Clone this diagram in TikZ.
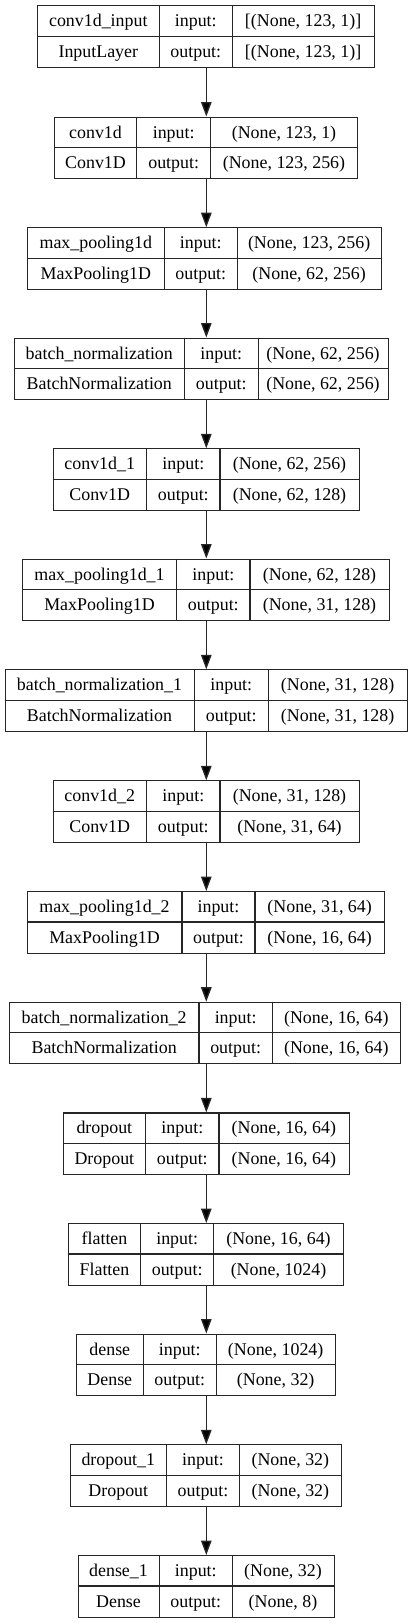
\documentclass[tikz,border=0pt]{standalone}
\usepackage{fontspec}
\setmainfont{Liberation Serif}
\usetikzlibrary{arrows.meta}
\tikzset{
  layerbox/.style={draw=black!85, line width=1.1pt, rectangle, inner sep=0pt, anchor=north west},
  divider/.style={draw=black!85, line width=1.1pt},
  celltext/.style={anchor=base, inner sep=0pt, font=\fontsize{17.9pt}{20pt}\selectfont, text=black},
  arr/.style={draw=black!85, line width=1.4pt, -{Triangle[length=14.5pt, width=10.5pt, fill=black]}}
}
% #1 id, #2 top, #3 x0, #4 d1, #5 d2, #6 x1, #7 name, #8 type, #9 in/out (as {in}{out})
\newcommand{\kerasLayer}[9]{%
  \node[layerbox, minimum width={(#6-#3)*1pt}, minimum height=61.5pt] (L#1) at (#3,#2) {};
  \draw[divider] (#3,{#2+31}) -- (#6,{#2+31});
  \draw[divider] (#4,#2) -- (#4,{#2+61.5});
  \draw[divider] (#5,#2) -- (#5,{#2+61.5});
  \node[celltext] (nm#1) at ({(#3+#4)/2},{#2+21.5}) {#7};
  \node[celltext] (ty#1) at ({(#3+#4)/2},{#2+52}) {#8};
  \node[celltext] (ia#1) at ({(#4+#5)/2},{#2+21.5}) {input:};
  \node[celltext] (oa#1) at ({(#4+#5)/2},{#2+52}) {output:};
  \kerasShapes{#1}{#2}{#5}{#6}#9%
}
\newcommand{\kerasShapes}[6]{%
  \node[celltext] (iv#1) at ({(#3+#4)/2},{#2+21.5}) {#5};
  \node[celltext] (ov#1) at ({(#3+#4)/2},{#2+52}) {#6};
}
\begin{document}
\begin{tikzpicture}[x=1pt, y=-1pt]
\useasboundingbox (0,0) rectangle (412,1623);
\fill[white] (0,0) rectangle (412,1623);
\coordinate (ax) at (206.3,0);
\kerasLayer{0}{5.3}{37.3}{159.3}{232.3}{374}{conv1d\_input}{InputLayer}{{[(None, 123, 1)]}{[(None, 123, 1)]}}
\kerasLayer{1}{116.5}{54.3}{136.7}{210.7}{357.3}{conv1d}{Conv1D}{{(None, 123, 1)}{(None, 123, 256)}}
\kerasLayer{2}{227.2}{27.3}{164.3}{237.3}{381}{max\_pooling1d}{MaxPooling1D}{{(None, 123, 256)}{(None, 62, 256)}}
\kerasLayer{3}{337.5}{14.3}{184.3}{258.3}{387.7}{batch\_normalization}{BatchNormalization}{{(None, 62, 256)}{(None, 62, 256)}}
\kerasLayer{4}{448.3}{52.7}{146.7}{220}{359}{conv1d\_1}{Conv1D}{{(None, 62, 256)}{(None, 62, 128)}}
\kerasLayer{5}{558.5}{22.3}{176.7}{250}{389}{max\_pooling1d\_1}{MaxPooling1D}{{(None, 62, 128)}{(None, 31, 128)}}
\kerasLayer{6}{669.3}{4.7}{194.3}{268.3}{407}{batch\_normalization\_1}{BatchNormalization}{{(None, 31, 128)}{(None, 31, 128)}}
\kerasLayer{7}{780.3}{52.7}{146.7}{220}{359}{conv1d\_2}{Conv1D}{{(None, 31, 128)}{(None, 31, 64)}}
\kerasLayer{8}{891}{27}{182}{255}{384.3}{max\_pooling1d\_2}{MaxPooling1D}{{(None, 31, 64)}{(None, 16, 64)}}
\kerasLayer{9}{1001.7}{9.3}{199}{272.3}{400.3}{batch\_normalization\_2}{BatchNormalization}{{(None, 16, 64)}{(None, 16, 64)}}
\kerasLayer{10}{1112.4}{63}{145.7}{219}{348.7}{dropout}{Dropout}{{(None, 16, 64)}{(None, 16, 64)}}
\kerasLayer{11}{1223}{68.3}{140.7}{213.7}{343.3}{flatten}{Flatten}{{(None, 16, 64)}{(None, 1024)}}
\kerasLayer{12}{1333.5}{76.3}{143.3}{216.3}{335}{dense}{Dense}{{(None, 1024)}{(None, 32)}}
\kerasLayer{13}{1444.3}{70.3}{166.3}{239.7}{341}{dropout\_1}{Dropout}{{(None, 32)}{(None, 32)}}
\kerasLayer{14}{1555}{77.7}{159.3}{232.3}{333.7}{dense\_1}{Dense}{{(None, 32)}{(None, 8)}}
\foreach \i [count=\j from 1] in {0,...,13} {
  \draw[arr] (L\i.south -| ax) -- (L\j.north -| ax);
}
\end{tikzpicture}
\end{document}
